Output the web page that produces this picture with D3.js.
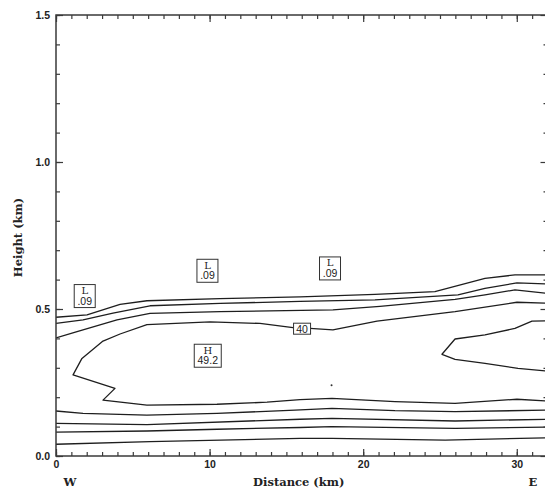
<!DOCTYPE html>
<html>
<head>
<meta charset="utf-8">
<script src="https://cdn.jsdelivr.net/npm/d3@7"></script>
<style>
  html, body { margin: 0; padding: 0; background: #fff; }
  svg { display: block; }
</style>
</head>
<body>
<svg id="chart" width="545" height="495"></svg>
<script>
// ---------- data (km) ----------
const xTickLabels = [0, 10, 20, 30];
const yTickLabels = [0.0, 0.5, 1.0, 1.5];

// contour polylines: [distance km, height km]
const contourTop1 = [[0,0.472],[2.02,0.480],[4.17,0.516],[5.92,0.528],[10.68,0.535],[15.89,0.541],[20.77,0.550],[24.67,0.559],[27.93,0.604],[29.88,0.616],[32,0.616]];
const contourTop2 = [[0,0.451],[1.76,0.463],[3.71,0.486],[6.12,0.511],[10.68,0.519],[15.89,0.526],[20.77,0.531],[26.17,0.548],[27.93,0.570],[30.01,0.589],[32,0.585]];
const contourTop3 = [[0,0.402],[1.37,0.423],[3.97,0.463],[6.12,0.485],[10.68,0.491],[18.03,0.497],[21.09,0.509],[25.98,0.533],[27.93,0.548],[29.88,0.565],[32,0.553]];
const contour40 = [[32,0.520],[30.01,0.523],[25.98,0.491],[20.90,0.459],[18.03,0.429],[16.54,0.434],[15.43,0.437],[13.28,0.451],[10.03,0.456],[5.92,0.447],[4.17,0.415],[3.06,0.391],[1.69,0.332],[1.11,0.276],[3.84,0.230],[3.06,0.190],[5.92,0.173],[10.48,0.176],[13.74,0.183],[15.89,0.192],[17.97,0.196],[22.07,0.185],[25.98,0.179],[30.01,0.193],[32,0.187]];
const contourInner = [[32,0.460],[30.99,0.459],[29.88,0.434],[27.93,0.412],[25.98,0.398],[25.13,0.346],[25.98,0.329],[27.93,0.315],[30.08,0.298],[32,0.289]];
const contourLow1 = [[0,0.153],[1.76,0.145],[5.92,0.139],[10.48,0.145],[15.56,0.156],[17.97,0.162],[22.07,0.154],[25.98,0.151],[32,0.156]];
const contourLow2 = [[0,0.111],[5.92,0.107],[15.89,0.125],[17.97,0.128],[25.98,0.119],[32,0.125]];
const contourLow3 = [[0,0.081],[5.92,0.085],[10.5,0.091],[15.89,0.097],[17.97,0.100],[25.98,0.094],[32,0.098]];
const contourLow4 = [[0,0.040],[6.12,0.049],[15.89,0.060],[17.97,0.060],[25.33,0.054],[32,0.062]];
const contours = [contourTop1, contourTop2, contourTop3, contour40, contourInner, contourLow1, contourLow2, contourLow3, contourLow4];

const markers = [[17.94, 0.241]];

// boxed labels: [distance km, height km, line1, line2]
const boxLabels = [
  [1.87, 0.544, "L", ".09"],
  [9.86, 0.630, "L", ".09"],
  [17.84, 0.638, "L", ".09"],
  [9.88, 0.341, "H", "49.2"]
];
const contourLabels = [[16.02, 0.433, "40"]];

// ---------- drawing ----------
const svg = d3.select("#chart");
const x = d3.scaleLinear().domain([0, 32]).range([56, 547.5]);
const y = d3.scaleLinear().domain([0, 1.5]).range([456, 15]);

const axisColor = "#3a3a3a";
const lineColor = "#1e1e1e";

svg.append("defs").append("clipPath").attr("id", "clip")
  .append("rect").attr("x", x(0)).attr("y", y(1.5))
  .attr("width", x(32) - x(0)).attr("height", y(0) - y(1.5));

const plot = svg.append("g").attr("clip-path", "url(#clip)");
const line = d3.line().x(d => x(d[0])).y(d => y(d[1])).curve(d3.curveLinear);

plot.selectAll("path.contour").data(contours).join("path")
  .attr("class", "contour")
  .attr("d", line)
  .attr("fill", "none")
  .attr("stroke", lineColor)
  .attr("stroke-width", 1.3)
  .attr("stroke-linejoin", "round");

plot.selectAll("circle.mk").data(markers).join("circle")
  .attr("cx", d => x(d[0])).attr("cy", d => y(d[1])).attr("r", 1)
  .attr("fill", "#333");

// boxed L / H labels
const bl = svg.append("g").selectAll("g").data(boxLabels).join("g")
  .attr("transform", d => `translate(${x(d[0])},${y(d[1])})`);
bl.append("rect")
  .attr("x", d => d[3].length > 3 ? -13.5 : -10.5)
  .attr("y", -11.5)
  .attr("width", d => d[3].length > 3 ? 27 : 21)
  .attr("height", 23)
  .attr("fill", "#fff")
  .attr("stroke", "#333")
  .attr("stroke-width", 1);
bl.append("text").attr("x", 0).attr("y", -2)
  .attr("text-anchor", "middle")
  .attr("font-family", "DejaVu Serif, serif")
  .attr("font-size", 10)
  .attr("fill", "#222")
  .text(d => d[2]);
bl.append("text").attr("x", 0).attr("y", 8.5)
  .attr("text-anchor", "middle")
  .attr("font-family", "Liberation Sans, Arial, sans-serif")
  .attr("font-size", 10.5)
  .attr("fill", "#222")
  .text(d => d[3]);

// contour value labels
const cl = svg.append("g").selectAll("g").data(contourLabels).join("g")
  .attr("transform", d => `translate(${x(d[0])},${y(d[1])})`);
cl.append("rect").attr("x", -8.5).attr("y", -5.5).attr("width", 17).attr("height", 11)
  .attr("fill", "#fff").attr("stroke", "#333").attr("stroke-width", 1);
cl.append("text").attr("x", 0).attr("y", 4)
  .attr("text-anchor", "middle")
  .attr("font-family", "Liberation Sans, Arial, sans-serif")
  .attr("font-size", 10.5)
  .attr("fill", "#222")
  .text(d => d[2]);

// ---------- axes ----------
const minorX = d3.range(0, 33, 1);
const minorY = d3.range(0, 1.51, 0.1).map(v => +v.toFixed(1));

function styleAxis(g) {
  g.select(".domain").remove();
  g.selectAll("line").attr("stroke", axisColor).attr("stroke-width", 1.2);
  g.selectAll("text").attr("fill", "#222")
    .attr("font-family", "Liberation Sans, Arial, sans-serif")
    .attr("font-weight", "bold").attr("font-size", 10.5);
}

// bottom
svg.append("g").attr("transform", `translate(0,${y(0)})`)
  .call(d3.axisBottom(x).tickValues(minorX).tickSize(-4).tickFormat(""))
  .call(styleAxis);
svg.append("g").attr("transform", `translate(0,${y(0)})`)
  .call(d3.axisBottom(x).tickValues(xTickLabels).tickSize(-7).tickPadding(5).tickFormat(d3.format("d")))
  .call(styleAxis);
// top
svg.append("g").attr("transform", `translate(0,${y(1.5)})`)
  .call(d3.axisTop(x).tickValues(minorX).tickSize(-4).tickFormat(""))
  .call(styleAxis);
svg.append("g").attr("transform", `translate(0,${y(1.5)})`)
  .call(d3.axisTop(x).tickValues(xTickLabels).tickSize(-7).tickFormat(""))
  .call(styleAxis);
// left
svg.append("g").attr("transform", `translate(${x(0)},0)`)
  .call(d3.axisLeft(y).tickValues(minorY).tickSize(-4).tickFormat(""))
  .call(styleAxis);
svg.append("g").attr("transform", `translate(${x(0)},0)`)
  .call(d3.axisLeft(y).tickValues(yTickLabels).tickSize(-7).tickPadding(6).tickFormat(d3.format(".1f")))
  .call(styleAxis);
// right
svg.append("g").attr("transform", `translate(${x(32)},0)`)
  .call(d3.axisRight(y).tickValues(minorY).tickSize(-4).tickFormat(""))
  .call(styleAxis);
svg.append("g").attr("transform", `translate(${x(32)},0)`)
  .call(d3.axisRight(y).tickValues(yTickLabels).tickSize(-7).tickFormat(""))
  .call(styleAxis);

// frame
svg.append("rect")
  .attr("x", x(0)).attr("y", y(1.5))
  .attr("width", x(32) - x(0)).attr("height", y(0) - y(1.5))
  .attr("fill", "none").attr("stroke", axisColor).attr("stroke-width", 1.5);

// titles
svg.append("text")
  .attr("x", (x(0) + x(32)) / 2 - 3).attr("y", 486)
  .attr("text-anchor", "middle")
  .attr("font-family", "DejaVu Serif, serif")
  .attr("font-weight", "bold")
  .attr("font-size", 11.5)
  .attr("fill", "#222")
  .text("Distance (km)");
svg.append("text")
  .attr("transform", `translate(22,${(y(0) + y(1.5)) / 2 + 2}) rotate(-90)`)
  .attr("text-anchor", "middle")
  .attr("font-family", "DejaVu Serif, serif")
  .attr("font-weight", "bold")
  .attr("font-size", 11.5)
  .attr("fill", "#222")
  .text("Height (km)");
svg.append("text")
  .attr("x", 70).attr("y", 486)
  .attr("text-anchor", "middle")
  .attr("font-family", "DejaVu Serif, serif")
  .attr("font-weight", "bold")
  .attr("font-size", 11.5)
  .attr("fill", "#222")
  .text("W");
svg.append("text")
  .attr("x", 533).attr("y", 486)
  .attr("text-anchor", "middle")
  .attr("font-family", "DejaVu Serif, serif")
  .attr("font-weight", "bold")
  .attr("font-size", 11.5)
  .attr("fill", "#222")
  .text("E");
</script>
</body>
</html>
